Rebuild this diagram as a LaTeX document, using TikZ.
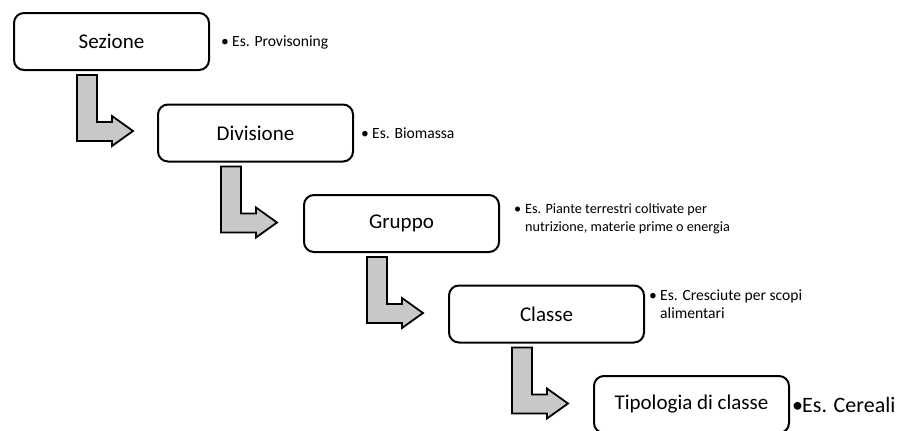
\documentclass[tikz,border=0pt]{standalone}
\usepackage{fontspec}
\setmainfont{Carlito}
\definecolor{arrowgray}{RGB}{200,200,200}
\newcommand\myLarrow[1]{%
  \begin{scope}[shift={(#1.south west)}]
    \draw[larrow] (64,4) -- (84,4) -- (84,51) -- (99,51) -- (99,45) -- (120,60)
      -- (99,75) -- (99,70) -- (64,70) -- cycle;
  \end{scope}}
\newcommand\mybul{\makebox[11pt][l]{•}}
\begin{document}
\begin{tikzpicture}[x=1pt,y=-1pt,
  box/.style={draw=black, line width=2pt, rounded corners=10pt, fill=white,
    minimum width=195pt, minimum height=57pt, inner sep=0pt,
    font=\fontsize{21}{25}\selectfont},
  note/.style={anchor=west, inner sep=0pt, align=left,
    font=\fontsize{15.6}{18}\selectfont},
  larrow/.style={draw=black, line width=1.8pt, fill=arrowgray, line join=miter}]
\useasboundingbox (0,0) rectangle (903,431);
\fill[white] (0,0) rectangle (903,431);

\node[box] (b1) at (111.5,41.5) {Sezione};
\node[box] (b2) at (255.5,133) {Divisione};
\node[box] (b3) at (401.5,223.5) {Gruppo};
\node[box] (b4) at (546.5,314) {Classe};
\node[box] (b5) at (691.5,404.5) {Tipologia di classe};

\myLarrow{b1}
\myLarrow{b2}
\myLarrow{b3}
\myLarrow{b4}

\node[note] (n1) at (221,42) {\mybul Es. Provisoning};
\node[note] (n2) at (361,133) {\mybul Es. Biomassa};
\node[note, font=\fontsize{14.2}{18}\selectfont] (n3) at (514,219)
  {\begin{tabular}{@{}l@{}l@{}}\mybul&Es. Piante terrestri coltivate per\\
   &nutrizione, materie prime o energia\end{tabular}};
\node[note] (n4) at (649,306)
  {\begin{tabular}{@{}l@{}l@{}}\mybul&Es. Cresciute per scopi\\
   &alimentari\end{tabular}};
\node[note, font=\fontsize{22}{26}\selectfont] (n5) at (792,405)
  {\makebox[10pt][l]{•}Es. Cereali};
\end{tikzpicture}
\end{document}
